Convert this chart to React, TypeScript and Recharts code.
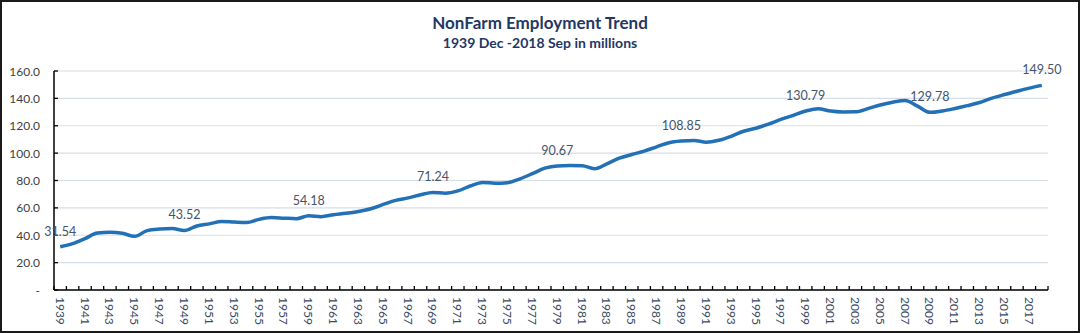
import React from 'react';
import { LineChart, Line, XAxis, YAxis, CartesianGrid, LabelList } from 'recharts';

const years = [
  1939, 1940, 1941, 1942, 1943, 1944, 1945, 1946, 1947, 1948,
  1949, 1950, 1951, 1952, 1953, 1954, 1955, 1956, 1957, 1958,
  1959, 1960, 1961, 1962, 1963, 1964, 1965, 1966, 1967, 1968,
  1969, 1970, 1971, 1972, 1973, 1974, 1975, 1976, 1977, 1978,
  1979, 1980, 1981, 1982, 1983, 1984, 1985, 1986, 1987, 1988,
  1989, 1990, 1991, 1992, 1993, 1994, 1995, 1996, 1997, 1998,
  1999, 2000, 2001, 2002, 2003, 2004, 2005, 2006, 2007, 2008,
  2009, 2010, 2011, 2012, 2013, 2014, 2015, 2016, 2017, 2018,
];

const employment = [
  31.54, 33.9, 37.6, 41.6, 42.2, 41.4, 39.2, 43.4, 44.5, 44.9,
  43.52, 46.8, 48.3, 50.0, 49.6, 49.3, 51.6, 52.9, 52.5, 52.1,
  54.18, 53.6, 55.0, 56.0, 57.4, 59.4, 62.5, 65.5, 67.3, 69.6,
  71.24, 70.7, 72.4, 76.0, 78.6, 78.0, 78.4, 81.2, 85.0, 89.0,
  90.67, 90.9, 90.8, 88.6, 92.2, 96.3, 99.0, 101.5, 104.6, 107.6,
  108.85, 109.3, 108.0, 109.4, 112.3, 116.0, 118.2, 121.2, 124.6, 127.6,
  130.79, 132.5, 130.7, 130.1, 130.2, 132.5, 135.2, 137.2, 138.4, 134.3,
  129.78, 130.8, 132.6, 134.7, 137.0, 140.2, 142.8, 145.2, 147.5, 149.50,
];

const labeledYears = [1939, 1949, 1959, 1969, 1979, 1989, 1999, 2009, 2018];
const yTicks = [0, 20, 40, 60, 80, 100, 120, 140, 160];
const title = 'NonFarm Employment Trend';
const subtitle = '1939 Dec -2018 Sep in millions';

const data = years.map((y, i) => ({ year: String(y), value: employment[i] }));

const W = 1080;
const H = 333;
const PAD = 6.2;
const FONT = 'Lato, "Open Sans", sans-serif';

const XTick = (props: any) => {
  const { x, y, payload, width } = props;
  const n = years.length;
  const step = (width - 2 * PAD) / (n - 1);
  const axisY = y - 7;
  const yr = Number(payload.value);
  const isLast = yr === years[n - 1];
  return (
    <g>
      <line x1={x - step / 2} x2={x - step / 2} y1={axisY} y2={axisY - 4} stroke="#000" strokeWidth={1.3} />
      {isLast && (
        <line x1={x + step / 2} x2={x + step / 2} y1={axisY} y2={axisY - 4} stroke="#000" strokeWidth={1.3} />
      )}
      {yr % 2 === 1 && (
        <text
          x={x}
          y={y}
          transform={`rotate(90 ${x} ${y})`}
          textAnchor="start"
          dominantBaseline="central"
          fontSize={12}
          fontFamily={FONT}
          fill="#3A4A63"
        >
          {payload.value}
        </text>
      )}
    </g>
  );
};

const YTick = (props: any) => {
  const { x, y, payload } = props;
  const v = Number(payload.value);
  return (
    <g>
      <line x1={x + 14} x2={x + 18} y1={y} y2={y} stroke="#000" strokeWidth={1.3} />
      <text
        x={x}
        y={y}
        textAnchor="end"
        dominantBaseline="central"
        fontSize={12}
        fontFamily={FONT}
        fill="#404040"
      >
        {v === 0 ? '-' : v.toFixed(1)}
      </text>
    </g>
  );
};

const PointLabel = (props: any) => {
  const { x, y, value, index } = props;
  if (!labeledYears.includes(years[index])) return null;
  return (
    <text
      x={x}
      y={y - 11}
      textAnchor="middle"
      fontSize={12.5}
      fontFamily={FONT}
      fill="#44546A"
    >
      {Number(value).toFixed(2)}
    </text>
  );
};

export default function App() {
  return (
    <div style={{ position: 'absolute', left: 0, top: 0, width: W, height: H, background: '#fff' }}>
      <LineChart
        width={W}
        height={H}
        data={data}
        margin={{ top: 71, right: 32, left: 0, bottom: 0 }}
      >
        <CartesianGrid vertical={false} stroke="#D5DEE7" strokeWidth={1.2} />
        <XAxis
          dataKey="year"
          interval={0}
          height={43}
          tickSize={0}
          tickMargin={7}
          padding={{ left: PAD, right: PAD }}
          axisLine={{ stroke: '#000', strokeWidth: 1.5 }}
          tick={<XTick />}
        />
        <YAxis
          domain={[0, 160]}
          ticks={yTicks}
          width={54}
          tickSize={0}
          tickMargin={14}
          axisLine={{ stroke: '#000', strokeWidth: 1.5 }}
          tick={<YTick />}
        />
        <Line
          type="monotone"
          dataKey="value"
          stroke="#2270B5"
          strokeWidth={3.5}
          dot={false}
          isAnimationActive={false}
        >
          <LabelList dataKey="value" content={<PointLabel />} />
        </Line>
      </LineChart>
      <svg width={W} height={60} style={{ position: 'absolute', left: 0, top: 0 }}>
        <text x={W / 2} y={29} textAnchor="middle" fontSize={17} fontWeight={700} fontFamily={FONT} fill="#1F3864">
          {title}
        </text>
        <text x={W / 2} y={48} textAnchor="middle" fontSize={14} fontWeight={700} fontFamily={FONT} fill="#1F3864">
          {subtitle}
        </text>
      </svg>
      <div
        style={{
          position: 'absolute',
          left: 0,
          top: 0,
          width: W,
          height: H,
          boxSizing: 'border-box',
          border: '2px solid #1a1a1a',
          pointerEvents: 'none',
        }}
      />
    </div>
  );
}
